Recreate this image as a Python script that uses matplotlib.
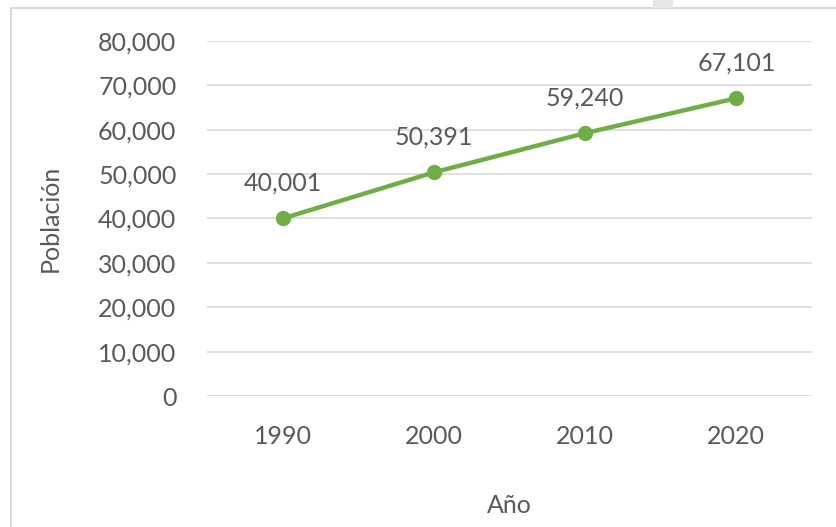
import matplotlib.pyplot as plt
from matplotlib.patches import Rectangle
from matplotlib.ticker import FuncFormatter

# datos
anios = ['1990', '2000', '2010', '2020']
poblacion = [40001, 50391, 59240, 67101]

plt.rcParams['font.family'] = ['Lato', 'DejaVu Sans']
texto = '#595959'

fig = plt.figure(figsize=(8.37, 5.27), dpi=100)
ax = fig.add_axes([207 / 837, 1 - 396 / 527, 605 / 837, 355 / 527])

x = range(len(anios))
ax.plot(x, poblacion, color='#70AD47', linewidth=3.2, marker='o', markersize=10,
        solid_capstyle='round')

# etiquetas de datos
for xi, v in zip(x, poblacion):
    ax.annotate(f'{v:,}', (xi, v), xytext=(0, 17), textcoords='offset points',
                ha='center', va='bottom', fontsize=18, color=texto)

ax.set_xlim(-0.5, len(anios) - 0.5)
ax.set_ylim(0, 80000)
ax.set_yticks(range(0, 80001, 10000))
ax.yaxis.set_major_formatter(FuncFormatter(lambda v, p: f'{int(v):,}'))
ax.set_xticks(list(x))
ax.set_xticklabels(anios)

ax.grid(axis='y', color='#D9D9D9', linewidth=1.2)
ax.set_axisbelow(True)
for s in ax.spines.values():
    s.set_visible(False)
ax.tick_params(length=0, labelsize=18, labelcolor=texto)
ax.tick_params(axis='y', pad=22)
ax.tick_params(axis='x', pad=21)

ax.set_xlabel('Año', fontsize=18, color=texto, labelpad=33)
ax.set_ylabel('Población', fontsize=18, color=texto, labelpad=26)

# borde del area del grafico
fig.patches.append(Rectangle((11 / 837, -0.05), 1.0, 1 - 8 / 527 + 0.05,
                             transform=fig.transFigure, fill=False,
                             edgecolor='#D9D9D9', linewidth=1.5))
fig.patches.append(Rectangle((653 / 837, 1 - 8 / 527), 20 / 837, 8 / 527,
                             transform=fig.transFigure, facecolor='#E6E6E6',
                             edgecolor='none'))

fig.savefig('out.png', dpi=100)
